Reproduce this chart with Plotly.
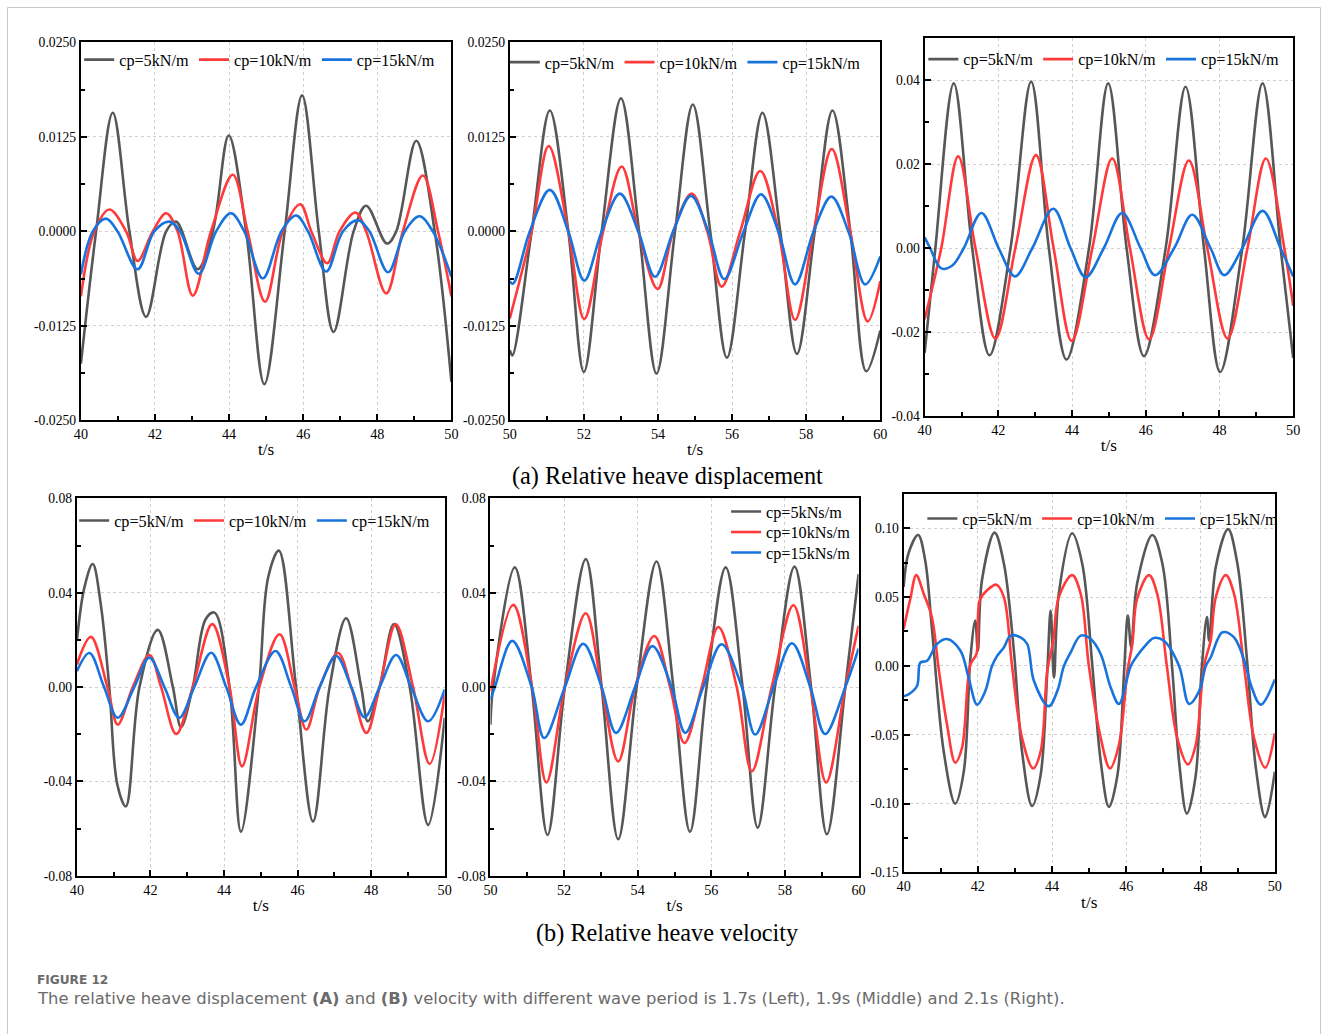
import plotly.graph_objects as go

# Figure size; the page adds the browser's default 8 px body margin and the
# whole page is then shown at KX x KY of its size.
W, H = 1328, 1034
OFF = 8
KX = W / (W + 2 * OFF)
KY = H / (H + 2 * OFF)
FS = 1 / KX  # font scale so text keeps its on-screen size

# ---------------- (a) relative heave displacement ----------------
# T = 1.7 s, t = 40-50 s
a1_t5 = [40.0, 40.41, 40.86, 41.31, 41.76, 42.30, 42.57, 43.15, 43.56, 43.99, 44.46, 44.95,
         45.50, 45.97, 46.42, 46.82, 47.36, 47.70, 48.26, 48.51, 49.05, 49.55, 50.0]
a1_y5 = [-0.0175, 0.0, 0.0157, 0.0, -0.0113, 0.0, 0.0013, -0.0050, 0.0, 0.0127, 0.0, -0.0202,
         0.0, 0.0180, 0.0, -0.0133, 0.0, 0.0034, -0.0016, 0.0, 0.0120, 0.0, -0.0199]
a1_t10 = [40.0, 40.36, 40.77, 41.22, 41.53, 41.94, 42.30, 42.61, 43.02, 43.51, 44.10, 44.50, 44.97,
          45.45, 45.92, 46.22, 46.65, 46.98, 47.41, 47.70, 48.24, 48.69, 49.23, 49.64, 50.0]
a1_y10 = [-0.0086, 0.0, 0.0029, 0.0, -0.0039, 0.0, 0.0024, 0.0, -0.0085, 0.0, 0.0075, 0.0, -0.0093,
          0.0, 0.0036, 0.0, -0.0042, 0.0, 0.0025, 0.0, -0.0082, 0.0, 0.0074, 0.0, -0.0086]
a1_t15 = [40.0, 40.32, 40.68, 40.99, 41.53, 41.98, 42.39, 42.68, 43.18, 43.65, 44.05, 44.41, 44.91,
          45.41, 45.81, 46.13, 46.62, 47.07, 47.48, 47.79, 48.29, 48.74, 49.14, 49.50, 50.0]
a1_y15 = [-0.0057, 0.0, 0.0017, 0.0, -0.0050, 0.0, 0.0013, 0.0, -0.0056, 0.0, 0.0024, 0.0, -0.0062,
          0.0, 0.0021, 0.0, -0.0053, 0.0, 0.0015, 0.0, -0.0054, 0.0, 0.0020, 0.0, -0.0060]

# T = 1.9 s, t = 50-60 s
a2_t5 = [50.0, 50.07, 50.59, 51.08, 51.58, 52.0, 52.48, 53.0, 53.49, 53.96, 54.46, 54.94,
         55.41, 55.86, 56.35, 56.82, 57.30, 57.75, 58.23, 58.71, 59.19, 59.62, 60.0]
a2_y5 = [-0.0157, -0.0164, 0.0, 0.0160, 0.0, -0.0186, 0.0, 0.0176, 0.0, -0.0188, 0.0, 0.0168,
         0.0, -0.0167, 0.0, 0.0157, 0.0, -0.0162, 0.0, 0.0160, 0.0, -0.0185, -0.0131]
a2_t10 = [50.0, 50.59, 51.05, 51.58, 52.01, 52.52, 53.02, 53.47, 53.99, 54.41, 54.91, 55.33,
          55.72, 56.22, 56.76, 57.25, 57.70, 58.20, 58.69, 59.19, 59.66, 60.0]
a2_y10 = [-0.0115, 0.0, 0.0113, 0.0, -0.0116, 0.0, 0.0086, 0.0, -0.0076, 0.0, 0.0050, 0.0,
          -0.0073, 0.0, 0.0080, 0.0, -0.0117, 0.0, 0.0109, 0.0, -0.0119, -0.0066]
a2_t15 = [50.0, 50.09, 50.54, 51.08, 51.58, 52.01, 52.48, 52.97, 53.47, 53.92, 54.41, 54.89,
          55.36, 55.79, 56.31, 56.78, 57.25, 57.70, 58.20, 58.68, 59.14, 59.59, 60.0]
a2_y15 = [-0.0066, -0.0069, 0.0, 0.0055, 0.0, -0.0065, 0.0, 0.0050, 0.0, -0.0060, 0.0, 0.0047,
          0.0, -0.0063, 0.0, 0.0049, 0.0, -0.0070, 0.0, 0.0046, 0.0, -0.0070, -0.0033]

# T = 2.1 s, t = 40-50 s
a3_t5 = [40.0, 40.29, 40.79, 41.29, 41.76, 42.33, 42.89, 43.37, 43.85, 44.46, 44.98,
         45.48, 45.95, 46.54, 47.08, 47.58, 48.02, 48.62, 49.17, 49.66, 50.0]
a3_y5 = [-0.0249, 0.0, 0.0393, 0.0, -0.0255, 0.0, 0.0397, 0.0, -0.0265, 0.0, 0.0393,
         0.0, -0.0257, 0.0, 0.0385, 0.0, -0.0295, 0.0, 0.0393, 0.0, -0.0261]
a3_t10 = [40.0, 40.45, 40.91, 41.38, 41.92, 42.46, 43.02, 43.50, 43.99, 44.55, 45.09,
          45.57, 46.09, 46.63, 47.17, 47.67, 48.22, 48.76, 49.26, 49.76, 50.0]
a3_y10 = [-0.0169, 0.0, 0.0219, 0.0, -0.0215, 0.0, 0.0222, 0.0, -0.0221, 0.0, 0.0214,
          0.0, -0.0217, 0.0, 0.0209, 0.0, -0.0215, 0.0, 0.0214, 0.0, -0.0137]
a3_t15 = [40.0, 40.15, 40.45, 40.75, 41.06, 41.54, 42.01, 42.45, 42.92, 43.49, 43.96, 44.37,
          44.86, 45.36, 45.86, 46.25, 46.77, 47.26, 47.76, 48.13, 48.62, 49.17, 49.66, 50.0]
a3_y15 = [0.0026, 0.0, -0.0048, -0.0041, 0.0, 0.0084, 0.0, -0.0067, 0.0, 0.0094, 0.0, -0.0069,
          0.0, 0.0084, 0.0, -0.0064, 0.0, 0.0080, 0.0, -0.0064, 0.0, 0.0089, 0.0, -0.0067]

# ---------------- (b) relative heave velocity ----------------
# T = 1.7 s
b1_t5 = [40.0, 40.2, 40.43, 40.65, 40.88, 41.1, 41.33, 41.70, 42.20, 42.61, 42.83, 43.15, 43.5,
         43.74, 44.15, 44.46, 44.95, 45.2, 45.49, 45.96, 46.42, 46.87, 47.32, 47.73, 47.91,
         48.23, 48.62, 49.05, 49.55, 50.0]
b1_y5 = [0.0196, 0.042, 0.0522, 0.035, 0.0, -0.0414, -0.0506, 0.0, 0.0243, 0.0, -0.0170, 0.0,
         0.0288, 0.0316, 0.0, -0.0613, 0.0, 0.0465, 0.0579, 0.0, -0.0570, 0.0, 0.0292, 0.0,
         -0.0145, 0.0, 0.0268, 0.0, -0.0584, -0.0130]
b1_t10 = [40.0, 40.38, 40.83, 41.11, 41.52, 41.97, 42.29, 42.70, 43.15, 43.68, 44.15, 44.49, 44.96,
          45.51, 45.92, 46.24, 46.60, 47.10, 47.46, 47.87, 48.23, 48.67, 49.14, 49.59, 50.0]
b1_y10 = [0.0096, 0.0213, 0.0, -0.0159, 0.0, 0.0136, 0.0, -0.0199, 0.0, 0.0267, 0.0, -0.0336, 0.0,
          0.0224, 0.0, -0.0180, 0.0, 0.0145, 0.0, -0.0194, 0.0, 0.0267, 0.0, -0.0326, -0.0031]
b1_t15 = [40.0, 40.34, 40.74, 41.11, 41.56, 41.97, 42.38, 42.78, 43.19, 43.65, 44.06, 44.46, 44.87,
          45.40, 45.83, 46.19, 46.60, 47.05, 47.46, 47.82, 48.23, 48.68, 49.09, 49.55, 50.0]
b1_y15 = [0.0068, 0.0145, 0.0, -0.0130, 0.0, 0.0125, 0.0, -0.0130, 0.0, 0.0146, 0.0, -0.0159, 0.0,
          0.0153, 0.0, -0.0145, 0.0, 0.0132, 0.0, -0.0128, 0.0, 0.0136, 0.0, -0.0145, -0.0010]

# T = 1.9 s
b2_t5 = [50.0, 50.07, 50.66, 51.12, 51.55, 52.02, 52.59, 53.02, 53.47, 53.97, 54.51, 54.97,
         55.42, 55.87, 56.39, 56.85, 57.26, 57.73, 58.26, 58.71, 59.14, 59.64, 60.0]
b2_y5 = [-0.0159, 0.0, 0.0508, 0.0, -0.0627, 0.0, 0.0543, 0.0, -0.0645, 0.0, 0.0533, 0.0,
         -0.0613, 0.0, 0.0508, 0.0, -0.0596, 0.0, 0.0511, 0.0, -0.0624, 0.0, 0.0479]
b2_t10 = [50.0, 50.62, 51.13, 51.52, 52.02, 52.59, 53.02, 53.47, 53.93, 54.45, 54.88, 55.27,
          55.74, 56.19, 56.69, 57.10, 57.64, 58.23, 58.69, 59.12, 59.64, 60.0]
b2_y10 = [-0.0017, 0.0349, 0.0, -0.0404, 0.0, 0.0313, 0.0, -0.0315, 0.0, 0.0217, 0.0, -0.0237,
          0.0, 0.0255, 0.0, -0.0357, 0.0, 0.0347, 0.0, -0.0404, 0.0, 0.0260]
b2_t15 = [50.0, 50.12, 50.59, 51.12, 51.46, 52.02, 52.52, 53.02, 53.41, 53.93, 54.40, 54.92,
          55.29, 55.78, 56.28, 56.83, 57.19, 57.69, 58.19, 58.69, 59.09, 59.64, 60.0]
b2_y15 = [-0.0052, 0.0, 0.0196, 0.0, -0.0216, 0.0, 0.0184, 0.0, -0.0194, 0.0, 0.0174, 0.0,
          -0.0194, 0.0, 0.0182, 0.0, -0.0201, 0.0, 0.0186, 0.0, -0.0199, 0.0, 0.0163]

# T = 2.1 s
b3_t5 = [40.00, 40.13, 40.39, 40.58, 40.76, 41.08, 41.39, 41.62, 41.80, 41.93, 42.00, 42.11, 42.45,
         42.70, 42.97, 43.19, 43.46, 43.69, 43.87, 43.96, 44.05, 44.18, 44.54,
         44.81, 45.08, 45.31, 45.53, 45.76, 45.94, 46.04, 46.13, 46.29, 46.70,
         46.97, 47.24, 47.42, 47.63, 47.87, 48.02, 48.17, 48.23, 48.41, 48.74,
         48.99, 49.26, 49.49, 49.74, 50.00]
b3_y5 = [0.0573, 0.0817, 0.0951, 0.0768, 0.0280, -0.0622, -0.1000, -0.0768, 0.0061, 0.0329, 0.0110,
         0.0622, 0.0968,
         0.0744, 0.0110, -0.0622, -0.1017, -0.0793, -0.0037, 0.0402, -0.0085, 0.0524, 0.0963,
         0.0744, 0.0012, -0.0695, -0.1024, -0.0793, -0.0037, 0.0366, 0.0134, 0.0598, 0.0951,
         0.0744, -0.0037, -0.0695, -0.1073, -0.0793, -0.0061, 0.0354, 0.0183, 0.0720, 0.0993,
         0.0744, 0.0012, -0.0744, -0.1098, -0.0768]
b3_t10 = [40.00, 40.18, 40.34, 40.54, 40.76, 40.94, 41.17, 41.39, 41.57, 41.80, 41.96, 42.05, 42.25,
          42.50, 42.70, 42.92, 43.19, 43.49, 43.69, 43.87, 44.03, 44.18, 44.54, 44.77, 44.99,
          45.31, 45.56, 45.80, 46.03, 46.16, 46.29, 46.61, 46.83, 47.09, 47.37, 47.66, 47.87,
          48.09, 48.27, 48.41, 48.68, 48.90, 49.17, 49.44, 49.74, 50.00]
b3_y10 = [0.0268, 0.0488, 0.0659, 0.0524, 0.0354, -0.0012, -0.0427, -0.0702, -0.0598, 0.0012,
          0.0085, 0.0476, 0.0549, 0.0590, 0.0500, 0.0, -0.0524, -0.0744, -0.0622, -0.0037,
          0.0183, 0.0500, 0.0659, 0.0524, 0.0, -0.0524, -0.0744, -0.0573, -0.0037, 0.0159,
          0.0488, 0.0659, 0.0524, 0.0, -0.0524, -0.0715, -0.0573, 0.0, 0.0183, 0.0500, 0.0659,
          0.0524, 0.0, -0.0524, -0.0739, -0.0488]
b3_t15 = [40.00, 40.13, 40.36, 40.45, 40.63, 40.90, 41.17, 41.53, 41.75, 41.98, 42.20, 42.38,
          42.52, 42.70, 42.88, 43.15, 43.33, 43.51, 43.91, 44.14, 44.32, 44.50, 44.77, 45.04,
          45.31, 45.58, 45.80, 46.12, 46.29, 46.47, 46.74, 47.01, 47.42, 47.69, 47.96, 48.14,
          48.27, 48.59, 48.90, 49.22, 49.35, 49.62, 50.00]
b3_y15 = [-0.0220, -0.0207, -0.0146, 0.0024, 0.0037, 0.0159, 0.0195, 0.0110, -0.0085, -0.0281,
          -0.0183, 0.0, 0.0073, 0.0134, 0.0220, 0.0207, 0.0159, -0.0110, -0.0293, -0.0183, 0.0,
          0.0098, 0.0220, 0.0195, 0.0085, -0.0159, -0.0276, 0.0, 0.0073, 0.0134, 0.0202, 0.0183,
          0.0, -0.0276, -0.0183, 0.0, 0.0061, 0.0244, 0.0207, 0.0, -0.0134, -0.0281, -0.0098]

# ---------------- tick labels ----------------
disp_ticks = [-0.025, -0.0125, 0.0, 0.0125, 0.025]
disp_labels = ["-0.0250", "-0.0125", "0.0000", "0.0125", "0.0250"]
disp3_ticks = [-0.04, -0.02, 0.0, 0.02, 0.04]
disp3_labels = ["-0.04", "-0.02", "0.00", "0.02", "0.04"]
vel_ticks = [-0.08, -0.04, 0.0, 0.04, 0.08]
vel_labels = ["-0.08", "-0.04", "0.00", "0.04", "0.08"]
vel3_ticks = [-0.15, -0.10, -0.05, 0.0, 0.05, 0.10]
vel3_labels = ["-0.15", "-0.10", "-0.05", "0.00", "0.05", "0.10"]

names_k = ["cp=5kN/m", "cp=10kN/m", "cp=15kN/m"]
names_ks = ["cp=5kNs/m", "cp=10kNs/m", "cp=15kNs/m"]
colors = ["#575757", "#ff3a3a", "#1874dc"]

SERIF = "Liberation Serif"


# screen-pixel -> paper-fraction helpers
def px(x):
    return (x / KX - OFF) / W


def py(y):
    return 1 - (y / KY - OFF) / H


def xdom(p0, p1):
    return [px(p0), px(p1)]


def ydom(top, bottom):
    return [py(bottom), py(top)]


def fs(size):
    return round(size * FS, 2)


panels = [
    dict(x=(81.7, 451.7), y=(43.3, 421.0), xr=[40, 50], yr=[-0.025, 0.025],
         tv=disp_ticks, tt=disp_labels, ymin=0.00625, names=names_k,
         series=[(a1_t5, a1_y5), (a1_t10, a1_y10), (a1_t15, a1_y15)],
         leg=dict(orientation="h", x=80, y=43.5)),
    dict(x=(510.0, 880.0), y=(43.3, 421.0), xr=[50, 60], yr=[-0.025, 0.025],
         tv=disp_ticks, tt=disp_labels, ymin=0.00625, names=names_k,
         series=[(a2_t5, a2_y5), (a2_t10, a2_y10), (a2_t15, a2_y15)],
         leg=dict(orientation="h", x=505, y=46)),
    dict(x=(924.3, 1292.3), y=(39.3, 416.7), xr=[40, 50], yr=[-0.04, 0.05],
         tv=disp3_ticks, tt=disp3_labels, ymin=0.01, names=names_k,
         series=[(a3_t5, a3_y5), (a3_t10, a3_y10), (a3_t15, a3_y15)],
         leg=dict(orientation="h", x=923, y=43)),
    dict(x=(77.7, 445.0), y=(499.0, 876.0), xr=[40, 50], yr=[-0.08, 0.08],
         tv=vel_ticks, tt=vel_labels, ymin=0.02, names=names_k,
         series=[(b1_t5, b1_y5), (b1_t10, b1_y10), (b1_t15, b1_y15)],
         leg=dict(orientation="h", x=75, y=504)),
    dict(x=(490.7, 858.3), y=(499.0, 876.0), xr=[50, 60], yr=[-0.08, 0.08],
         tv=vel_ticks, tt=vel_labels, ymin=0.02, names=names_ks,
         series=[(b2_t5, b2_y5), (b2_t10, b2_y10), (b2_t15, b2_y15)],
         leg=dict(orientation="v", x=726, y=[495, 515.5, 536])),
    dict(x=(903.3, 1274.0), y=(494.3, 872.7), xr=[40, 50], yr=[-0.15, 0.125],
         tv=vel3_ticks, tt=vel3_labels, ymin=0.025, names=names_k,
         series=[(b3_t5, b3_y5), (b3_t10, b3_y10), (b3_t15, b3_y15)],
         leg=dict(orientation="h", x=922, y=502)),
]

fig = go.Figure()
layout = dict(
    width=W, height=H,
    margin=dict(l=0, r=0, t=0, b=0),
    paper_bgcolor="white", plot_bgcolor="white",
    font=dict(family=SERIF, color="black"),
    showlegend=True,
)


def legend_box(orientation, x, y):
    return dict(
        orientation=orientation, x=px(x), y=py(y),
        xanchor="left", yanchor="top", bgcolor="rgba(0,0,0,0)", borderwidth=0,
        font=dict(family=SERIF, size=fs(16), color="black"), itemwidth=30,
        tracegroupgap=0,
    )


n_leg = 0
for i, p in enumerate(panels, start=1):
    sfx = "" if i == 1 else str(i)
    lg = p["leg"]
    # one legend box per panel, or one per row when stacked vertically
    if isinstance(lg["y"], list):
        leg_names = []
        for ly in lg["y"]:
            n_leg += 1
            nm = "legend" if n_leg == 1 else f"legend{n_leg}"
            layout[nm] = legend_box(lg["orientation"], lg["x"], ly)
            leg_names.append(nm)
    else:
        n_leg += 1
        nm = "legend" if n_leg == 1 else f"legend{n_leg}"
        layout[nm] = legend_box(lg["orientation"], lg["x"], lg["y"])
        leg_names = [nm] * 3

    for (t, v), name, col, ln in zip(p["series"], p["names"], colors, leg_names):
        fig.add_trace(go.Scatter(
            x=t, y=v, mode="lines", name=name,
            line=dict(color=col, width=2.6, shape="spline", smoothing=1.0),
            xaxis=f"x{sfx}", yaxis=f"y{sfx}", legend=ln,
        ))
    common = dict(
        showline=True, linecolor="black", linewidth=2, mirror=True,
        ticks="inside", ticklen=6, tickwidth=1.5, tickcolor="black",
        showgrid=True, gridcolor="#d0d0d0", griddash="dot", gridwidth=1,
        zeroline=False,
    )
    layout[f"xaxis{sfx}"] = dict(
        common, domain=xdom(*p["x"]), range=p["xr"], anchor=f"y{sfx}",
        tickmode="linear", tick0=p["xr"][0], dtick=2,
        minor=dict(ticks="inside", ticklen=4, tickwidth=1.5, tickcolor="black",
                   tick0=p["xr"][0], dtick=1, showgrid=False),
        tickfont=dict(family=SERIF, size=fs(14), color="black"),
        title=dict(text="t/s", font=dict(family=SERIF, size=fs(17), color="black"), standoff=2),
    )
    layout[f"yaxis{sfx}"] = dict(
        common, domain=ydom(*p["y"]), range=p["yr"], anchor=f"x{sfx}",
        tickmode="array", tickvals=p["tv"], ticktext=p["tt"],
        tickfont=dict(family=SERIF, size=fs(13.5), color="black"),
        minor=dict(ticks="inside", ticklen=4, tickwidth=1.5, tickcolor="black",
                   tick0=0, dtick=p["ymin"], showgrid=False),
    )

layout["annotations"] = [
    dict(text="(a) Relative heave displacement", x=px(667), y=py(477), xref="paper", yref="paper",
         xanchor="center", yanchor="middle", showarrow=False,
         font=dict(family=SERIF, size=fs(24), color="black")),
    dict(text="(b) Relative heave velocity", x=px(667), y=py(933), xref="paper", yref="paper",
         xanchor="center", yanchor="middle", showarrow=False,
         font=dict(family=SERIF, size=fs(24), color="black")),
    dict(text="<b>FIGURE 12</b>", x=px(36), y=py(980), xref="paper", yref="paper",
         xanchor="left", yanchor="middle", showarrow=False,
         font=dict(family="DejaVu Sans", size=fs(12), color="#6b6b6b")),
    dict(text="The relative heave displacement <b>(A)</b> and <b>(B)</b> velocity with different wave "
              "period is 1.7s (Left), 1.9s (Middle) and 2.1s (Right).",
         x=px(36), y=py(999), xref="paper", yref="paper",
         xanchor="left", yanchor="middle", showarrow=False,
         font=dict(family="DejaVu Sans", size=fs(16.2), color="#6b6b6b")),
]
# light frame round the whole figure
layout["shapes"] = [
    dict(type="rect", xref="paper", yref="paper", x0=0.5 / W, x1=1 - 0.5 / W, y0=-0.02, y1=1 - 0.5 / H,
         line=dict(color="#c8c8c8", width=1), fillcolor="rgba(0,0,0,0)", layer="below"),
]

fig.update_layout(**layout)
fig.write_html("out.html")
